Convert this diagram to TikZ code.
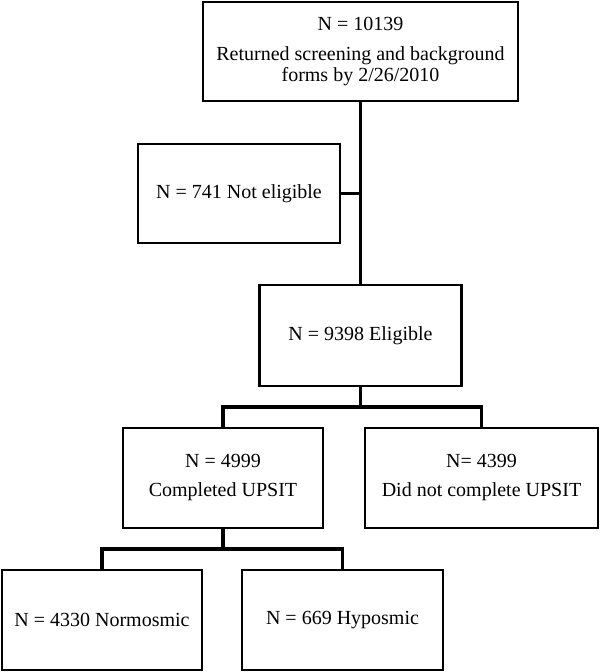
\documentclass[tikz,border=0pt]{standalone}
\usepackage{fontspec}
\setmainfont{Liberation Serif}
\begin{document}
\begin{tikzpicture}[x=1pt,y=-1pt,
  box/.style={draw, line width=2.3pt, rectangle, align=center, inner sep=0pt,
    font=\fontsize{20}{21}\selectfont},
  conn/.style={line width=3.3pt}]
\useasboundingbox (0,0) rectangle (600,672);
\node[box, minimum width=315pt, minimum height=99pt] (top) at (360.5,51.5)
  {N = 10139\\[9pt]Returned screening and background\\forms by 2/26/2010};
\node[box, minimum width=202pt, minimum height=99pt] (ne) at (239,193.5) {N = 741 Not eligible};
\node[box, minimum width=202pt, minimum height=101pt] (el) at (360.5,335.5) {N = 9398 Eligible};
\node[box, minimum width=200pt, minimum height=100pt] (cu) at (223,478) {N = 4999\\[8pt]Completed UPSIT};
\node[box, minimum width=233pt, minimum height=100pt] (dn) at (481.5,478) {N= 4399\\[8pt]Did not complete UPSIT};
\node[box, minimum width=200pt, minimum height=100pt] (no) at (102,620) {N = 4330 Normosmic};
\node[box, minimum width=201pt, minimum height=100pt] (hy) at (342.5,620) {N = 669 Hyposmic};
\coordinate (j1) at (360.5,407);
\coordinate (j2) at (223,549);
\draw[conn] (top.south) -- (el.north);
\draw[conn] (ne.east) -- (ne.east -| top.south);
\draw[conn] (el.south) -- (j1);
\draw[conn] (cu.north) |- (j1) -| (dn.north);
\draw[conn] (cu.south) -- (j2);
\draw[conn] (no.north) |- (j2) -| (hy.north);
\end{tikzpicture}
\end{document}
